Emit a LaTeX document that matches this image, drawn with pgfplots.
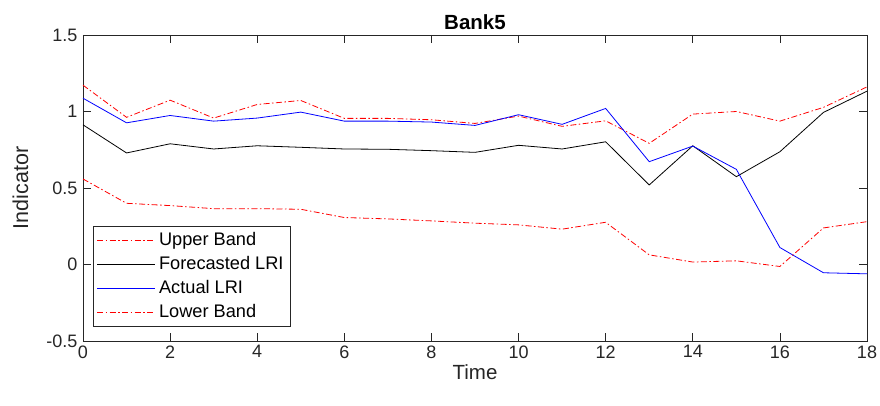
\documentclass[border=0pt]{standalone}
\usepackage{pgfplots}
\pgfplotsset{compat=1.18}
\usepackage{fontspec}
\setmainfont{Liberation Sans}
\definecolor{axgray}{gray}{0.15}
\definecolor{mred}{rgb}{1,0,0}
\definecolor{mblue}{rgb}{0,0,1}
\begin{document}
\begin{tikzpicture}
\begin{axis}[
  scale only axis,
  width=784bp, height=306bp,
  xmin=0, xmax=18, ymin=-0.5, ymax=1.5,
  xtick={0,2,...,18},
  ytick={-0.5,0,0.5,1,1.5},
  yticklabels={-0.5,0,0.5,1,1.5},
  /pgf/number format/assume math mode=true,
  tick align=inside,
  major tick length=8bp,
  minor tick num=0,
  axis line style={axgray, line width=0.6bp},
  every tick/.style={axgray, line width=0.6bp},
  tick label style={font=\fontsize{18bp}{21bp}\selectfont, text=axgray},
  xticklabel style={yshift=-1bp},
  yticklabel style={xshift=-2bp},
  xlabel={Time},
  ylabel={Indicator},
  xlabel style={font=\fontsize{20.5bp}{24bp}\selectfont, text=axgray},
  ylabel style={font=\fontsize{21.5bp}{24bp}\selectfont, text=axgray,
    at={([xshift=-62.5bp]axis description cs:0,0.5)}, anchor=center},
  title={\textbf{Bank5}},
  title style={font=\fontsize{20.5bp}{24bp}\selectfont, yshift=-4bp},
  legend cell align=left,
  legend style={
    at={(0,0)}, anchor=south west, xshift=10.5bp, yshift=14bp,
    draw=axgray, line width=0.6bp, fill=white,
    font=\fontsize{18.2bp}{20bp}\selectfont,
    inner xsep=3bp, inner ysep=2bp,
    row sep=0bp,
    nodes={inner ysep=3bp, inner xsep=3.5bp, text height=13.5bp, text depth=4.5bp},
  },
  legend image code/.code={\draw[#1] (0bp,0bp) -- (58bp,0bp);},
  every axis plot/.append style={line width=0.8bp},
]
\addplot[mred, dash pattern=on 6bp off 2.5bp on 1.5bp off 2.5bp] coordinates {
(0,1.172) (1,0.962) (2,1.074) (3,0.957) (4,1.046) (5,1.072) (6,0.955) (7,0.955) (8,0.946) (9,0.922) (10,0.970) (11,0.903) (12,0.939) (13,0.792) (14,0.983) (15,1.000) (16,0.937) (17,1.027) (18,1.161)
};
\addlegendentry{Upper Band}
\addplot[black] coordinates {
(0,0.913) (1,0.729) (2,0.789) (3,0.755) (4,0.776) (5,0.766) (6,0.755) (7,0.753) (8,0.744) (9,0.733) (10,0.779) (11,0.755) (12,0.802) (13,0.520) (14,0.776) (15,0.574) (16,0.737) (17,0.994) (18,1.133)
};
\addlegendentry{Forecasted LRI}
\addplot[mblue] coordinates {
(0,1.087) (1,0.926) (2,0.974) (3,0.937) (4,0.957) (5,0.996) (6,0.937) (7,0.937) (8,0.931) (9,0.909) (10,0.979) (11,0.916) (12,1.020) (13,0.672) (14,0.774) (15,0.622) (16,0.111) (17,-0.054) (18,-0.061)
};
\addlegendentry{Actual LRI}
\addplot[mred, dash pattern=on 6bp off 2.5bp on 1.5bp off 2.5bp] coordinates {
(0,0.559) (1,0.400) (2,0.385) (3,0.365) (4,0.365) (5,0.361) (6,0.307) (7,0.298) (8,0.285) (9,0.270) (10,0.259) (11,0.231) (12,0.276) (13,0.063) (14,0.016) (15,0.024) (16,-0.013) (17,0.239) (18,0.280)
};
\addlegendentry{Lower Band}
\coordinate (sw) at (rel axis cs:0,0);
\end{axis}
\pgfresetboundingbox
\path[use as bounding box] (sw) ++(-83bp,-65bp) rectangle ++(880bp,406bp);
\end{tikzpicture}
\end{document}
